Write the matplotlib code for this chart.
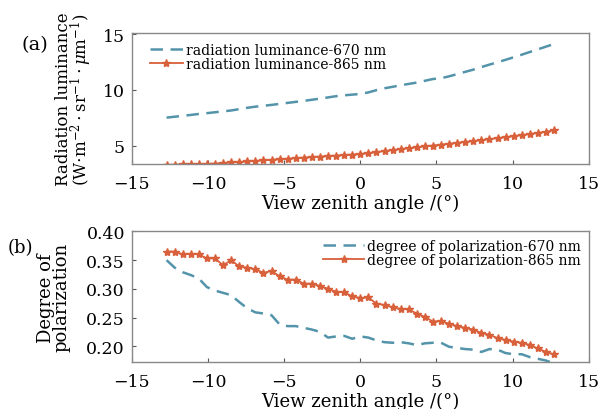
import matplotlib
matplotlib.use('Agg')
import matplotlib.pyplot as plt

# view zenith angle grid (deg)
angle = [-12.72, -12.19, -11.66, -11.13, -10.60, -10.07, -9.54, -9.01, -8.48, -7.95,
         -7.42, -6.89, -6.36, -5.83, -5.30, -4.77, -4.24, -3.71, -3.18, -2.65,
         -2.12, -1.59, -1.06, -0.53, 0.00, 0.53, 1.06, 1.59, 2.12, 2.65,
         3.18, 3.71, 4.24, 4.77, 5.30, 5.83, 6.36, 6.89, 7.42, 7.95,
         8.48, 9.01, 9.54, 10.07, 10.60, 11.13, 11.66, 12.19, 12.72]

# (a) radiation luminance
lum_670 = [7.52, 7.60, 7.68, 7.76, 7.85, 7.92, 8.00, 8.08, 8.16, 8.28,
           8.40, 8.50, 8.58, 8.66, 8.75, 8.84, 8.93, 9.02, 9.12, 9.22,
           9.33, 9.44, 9.52, 9.58, 9.64, 9.78, 9.98, 10.15, 10.28, 10.42,
           10.54, 10.66, 10.82, 10.98, 11.05, 11.22, 11.42, 11.62, 11.82, 12.05,
           12.27, 12.48, 12.70, 12.93, 13.16, 13.40, 13.64, 13.88, 14.12]
lum_865 = [3.28, 3.30, 3.32, 3.34, 3.36, 3.38, 3.40, 3.45, 3.50, 3.54,
           3.59, 3.64, 3.69, 3.74, 3.79, 3.84, 3.89, 3.94, 3.99, 4.03,
           4.08, 4.12, 4.17, 4.21, 4.26, 4.34, 4.43, 4.52, 4.61, 4.70,
           4.78, 4.86, 4.94, 5.02, 5.10, 5.18, 5.26, 5.34, 5.42, 5.50,
           5.59, 5.68, 5.77, 5.86, 5.95, 6.05, 6.15, 6.26, 6.38]

# (b) degree of polarization
dop_670 = [0.350, 0.337, 0.329, 0.324, 0.318, 0.303, 0.297, 0.293, 0.289, 0.277,
           0.266, 0.259, 0.257, 0.254, 0.238, 0.235, 0.235, 0.232, 0.229, 0.225,
           0.215, 0.217, 0.218, 0.213, 0.217, 0.215, 0.210, 0.207, 0.206, 0.207,
           0.205, 0.202, 0.205, 0.206, 0.206, 0.199, 0.197, 0.195, 0.194, 0.190,
           0.195, 0.194, 0.188, 0.186, 0.186, 0.181, 0.178, 0.175, 0.170]
dop_865 = [0.365, 0.365, 0.360, 0.361, 0.360, 0.353, 0.353, 0.341, 0.350, 0.339,
           0.337, 0.334, 0.328, 0.331, 0.322, 0.316, 0.316, 0.309, 0.309, 0.305,
           0.300, 0.295, 0.294, 0.287, 0.284, 0.285, 0.274, 0.272, 0.268, 0.265,
           0.264, 0.257, 0.251, 0.243, 0.244, 0.239, 0.235, 0.232, 0.229, 0.223,
           0.220, 0.214, 0.211, 0.208, 0.206, 0.202, 0.196, 0.190, 0.186]

blue = '#5494aa'
orange = '#d8603a'

plt.rcParams['font.family'] = ['DejaVu Serif']
plt.rcParams['mathtext.fontset'] = 'dejavuserif'

fig = plt.figure(figsize=(6.02, 4.10), dpi=100)
ax1 = fig.add_axes([0.219, 0.598, 0.759, 0.319])
ax2 = fig.add_axes([0.219, 0.114, 0.759, 0.319])

ax1.plot(angle, lum_670, '--', color=blue, lw=1.8, dashes=(5, 3),
         label='radiation luminance-670 nm')
ax1.plot(angle, lum_865, '-', color=orange, lw=1.3, marker='*', ms=6,
         label='radiation luminance-865 nm')
ax1.set_xlim(-15, 15)
ax1.set_ylim(3.38, 15.1)
ax1.set_yticks([5, 10, 15])
ax1.set_xlabel('View zenith angle /(°)', fontsize=13, labelpad=1)
ax1.set_ylabel('Radiation luminance\n(W$\\cdot$m$^{-2}\\cdot$sr$^{-1}\\cdot\\mu$m$^{-1}$)',
               fontsize=12, linespacing=0.85, labelpad=6)
ax1.legend(loc='upper left', frameon=False, fontsize=10, handlelength=2.4,
           labelspacing=0, handletextpad=0.2, borderaxespad=0.3,
           bbox_to_anchor=(0.018, 1.0))
fig.text(0.035, 0.878, '(a)', fontsize=14)

ax2.plot(angle, dop_670, '--', color=blue, lw=1.8, dashes=(5, 3),
         label='degree of polarization-670 nm')
ax2.plot(angle, dop_865, '-', color=orange, lw=1.3, marker='*', ms=6,
         label='degree of polarization-865 nm')
ax2.set_xlim(-15, 15)
ax2.set_ylim(0.172, 0.40)
ax2.set_yticks([0.20, 0.25, 0.30, 0.35, 0.40])
ax2.set_yticklabels(['0.20', '0.25', '0.30', '0.35', '0.40'])
ax2.set_xlabel('View zenith angle /(°)', fontsize=13, labelpad=1)
ax2.set_ylabel('Degree of\npolarization', fontsize=13, linespacing=0.85, labelpad=11)
ax2.legend(loc='upper right', frameon=False, fontsize=10, handlelength=3.0,
           labelspacing=0, handletextpad=0.2, borderaxespad=0.15)
fig.text(0.012, 0.382, '(b)', fontsize=13)

for ax in (ax1, ax2):
    ax.set_xticks([-15, -10, -5, 0, 5, 10, 15])
    ax.tick_params(direction='in', length=3, labelsize=12.5, pad=5, color='#555555')
    ax.tick_params(axis='x', pad=8)
    for s in ax.spines.values():
        s.set_color('#888888')
        s.set_linewidth(1.0)

fig.savefig('out.png', dpi=100)
